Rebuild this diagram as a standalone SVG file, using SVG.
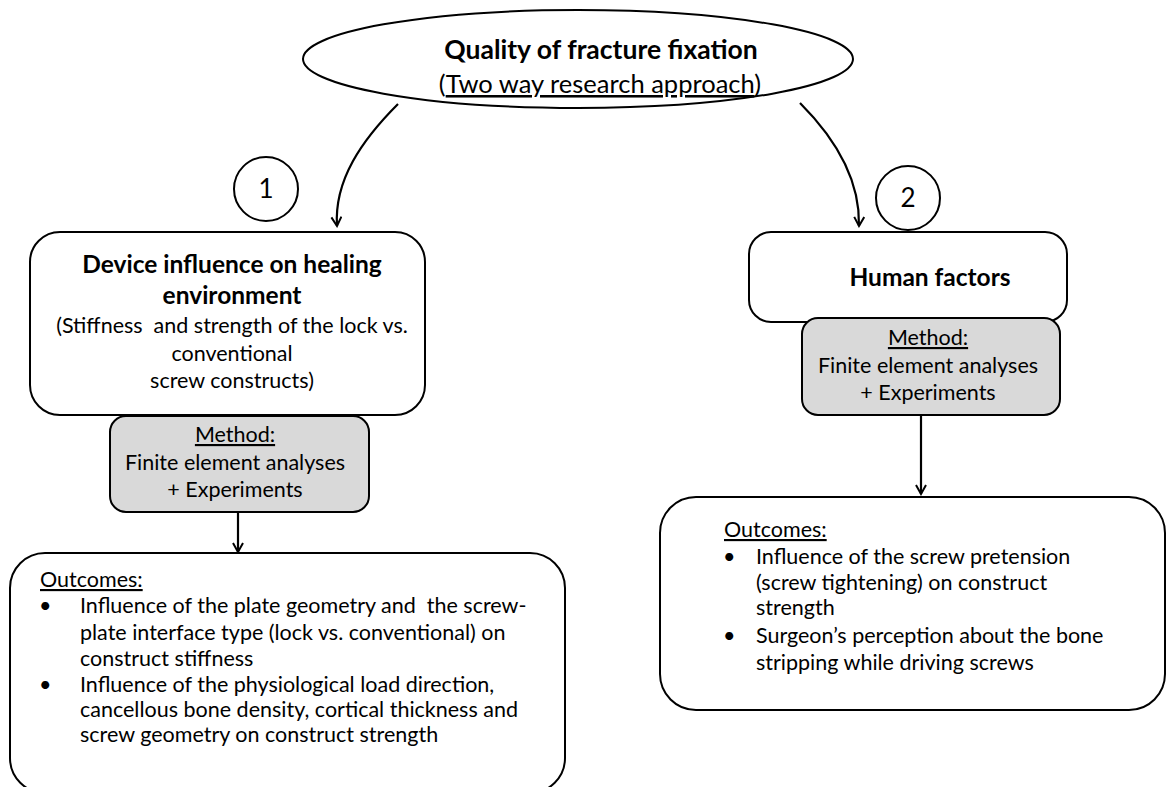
<svg xmlns="http://www.w3.org/2000/svg" width="1173" height="787" viewBox="0 0 1173 787">
<defs>
<style>
text{font-family:Lato,"Liberation Sans",sans-serif;fill:#000;white-space:pre}
.b{font-weight:bold;font-size:24.5px}
.t{font-size:21.5px}
.m{text-anchor:middle}
.box{fill:#fff;stroke:#000;stroke-width:2}
.meth{fill:#d9d9d9;stroke:#000;stroke-width:2}
.con{fill:none;stroke:#000;stroke-width:2.2}
</style>
<marker id="arr" viewBox="0 0 12 12" refX="10" refY="6" markerWidth="12" markerHeight="12" markerUnits="userSpaceOnUse" orient="auto">
<path d="M1,1 L10,6 L1,11" fill="none" stroke="#000" stroke-width="2"/>
</marker>
</defs>
<rect width="1173" height="787" fill="#fff"/>
<g id="connectors">
<path class="con" d="M398,104 C362,140 334,180 337,226" marker-end="url(#arr)"/>
<path class="con" d="M800,103 C842,145 860,185 859,226" marker-end="url(#arr)"/>
<path class="con" d="M238,512 L238,552" marker-end="url(#arr)"/>
<path class="con" d="M921,415 L921,494" marker-end="url(#arr)"/>
</g>
<g id="root">
<ellipse class="box" cx="578" cy="59" rx="275" ry="49"/>
<text class="m" x="601" y="59" style="font-weight:bold;font-size:26.5px">Quality of fracture fixation</text>
<text class="m" x="600" y="93" style="font-size:25.5px">(<tspan text-decoration="underline">Two way research approach</tspan>)</text>
</g>
<g id="n1">
<circle class="box" cx="266" cy="189" r="32"/>
<text class="m" x="266" y="198" style="font-size:26px">1</text>
</g>
<g id="n2">
<circle class="box" cx="908" cy="198" r="32"/>
<text class="m" x="908" y="207" style="font-size:26px">2</text>
</g>
<g id="device">
<rect class="box" x="30" y="232" width="395" height="183" rx="30"/>
<text class="b m" x="232" y="273">Device influence on healing</text>
<text class="b m" x="232" y="304">environment</text>
<text class="t m" x="232" y="333">(Stiffness  and strength of the lock vs.</text>
<text class="t m" x="232" y="361">conventional</text>
<text class="t m" x="232" y="388">screw constructs)</text>
</g>
<g id="method1">
<rect class="meth" x="110" y="416" width="259" height="96" rx="16"/>
<text class="t m" x="235" y="442" text-decoration="underline">Method:</text>
<text class="t m" x="235" y="470">Finite element analyses</text>
<text class="t m" x="235" y="497">+ Experiments</text>
</g>
<g id="outcomes1">
<rect class="box" x="10" y="553" width="555" height="240" rx="35"/>
<text class="t" x="40" y="587" text-decoration="underline">Outcomes:</text>
<text class="t" x="39" y="613">•</text>
<text class="t" x="80" y="613">Influence of the plate geometry and  the screw-</text>
<text class="t" x="80" y="640">plate interface type (lock vs. conventional) on</text>
<text class="t" x="80" y="666">construct stiffness</text>
<text class="t" x="39" y="692">•</text>
<text class="t" x="80" y="692">Influence of the physiological load direction,</text>
<text class="t" x="80" y="717">cancellous bone density, cortical thickness and</text>
<text class="t" x="80" y="742">screw geometry on construct strength</text>
</g>
<g id="human">
<rect class="box" x="749" y="232" width="318" height="90" rx="22"/>
<text class="b m" x="930" y="286">Human factors</text>
</g>
<g id="method2">
<rect class="meth" x="802" y="318" width="258" height="97" rx="16"/>
<text class="t m" x="928" y="345" text-decoration="underline">Method:</text>
<text class="t m" x="928" y="373">Finite element analyses</text>
<text class="t m" x="928" y="400">+ Experiments</text>
</g>
<g id="outcomes2">
<rect class="box" x="660" y="497" width="505" height="213" rx="36"/>
<text class="t" x="724" y="537" text-decoration="underline">Outcomes:</text>
<text class="t" x="723" y="564">•</text>
<text class="t" x="756" y="564">Influence of the screw pretension</text>
<text class="t" x="756" y="590">(screw tightening) on construct</text>
<text class="t" x="756" y="615">strength</text>
<text class="t" x="723" y="643">•</text>
<text class="t" x="756" y="643">Surgeon’s perception about the bone</text>
<text class="t" x="756" y="670">stripping while driving screws</text>
</g>
</svg>
